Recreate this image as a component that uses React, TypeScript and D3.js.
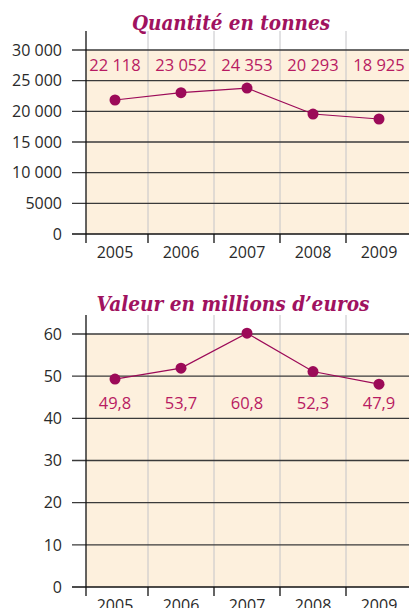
import React from "react";
import * as d3 from "d3";

const years = ["2005", "2006", "2007", "2008", "2009"];
const tonnesLabels = ["22 118", "23 052", "24 353", "20 293", "18 925"];
const tonnesPlotted = [21850, 23040, 23800, 19560, 18750];
const tonnesTicks = [0, 5000, 10000, 15000, 20000, 25000, 30000];
const tonnesTickLabels = ["0", "5000", "10 000", "15 000", "20 000", "25 000", "30 000"];

const euroLabels = ["49,8", "53,7", "60,8", "52,3", "47,9"];
const euroPlotted = [49.3, 51.9, 60.2, 51.1, 48.1];
const euroTicks = [0, 10, 20, 30, 40, 50, 60];
const euroTickLabels = ["0", "10", "20", "30", "40", "50", "60"];

const TITLE_COLOR = "#a0125f";
const POINT_COLOR = "#9c0a58";
const LABEL_COLOR = "#b81a62";
const FILL = "#fdf0dd";
const FONT = "'Open Sans', sans-serif";

type PanelProps = {
  title: string;
  titleX: number;
  titleY: number;
  titleWidth: number;
  axisTop: number;
  yMax: number;
  yRange: [number, number];
  ticks: number[];
  tickLabels: string[];
  plotted: number[];
  labels: string[];
  labelY: number;
  yearY: number;
};

const xScale = d3.scaleBand<string>().domain(years).range([82, 412]).padding(0);
const AXIS_X = 86;
const GRID_LEFT = 72;
const RIGHT = 409;

function Panel(p: PanelProps) {
  const y = d3.scaleLinear().domain([0, p.yMax]).range(p.yRange);
  const line = d3
    .line<number>()
    .x((_, i) => (xScale(years[i]) as number) + xScale.bandwidth() / 2)
    .y((v) => y(v));
  const y0 = y(0);
  const yTop = y(p.yMax);
  return (
    <g>
      <text
        x={p.titleX}
        y={p.titleY}
        textAnchor="middle"
        fill={TITLE_COLOR}
        fontFamily="'DejaVu Serif', serif"
        fontWeight="bold"
        fontStyle="italic"
        fontSize={20}
        textLength={p.titleWidth}
        lengthAdjust="spacingAndGlyphs"
      >
        {p.title}
      </text>
      <rect x={AXIS_X} y={yTop} width={RIGHT - AXIS_X} height={y0 - yTop} fill={FILL} />
      {years.slice(1).map((yr) => (
        <line
          key={"v" + yr}
          x1={xScale(yr) as number}
          x2={xScale(yr) as number}
          y1={p.axisTop}
          y2={y0}
          stroke="#c4c4c8"
          strokeWidth={1}
        />
      ))}
      {p.ticks.map((t, i) => (
        <g key={"t" + t}>
          <line
            x1={GRID_LEFT}
            x2={RIGHT}
            y1={y(t)}
            y2={y(t)}
            stroke={t === 0 ? "#111" : "#3a3a3a"}
            strokeWidth={1.3}
          />
          <text
            x={62}
            y={y(t)}
            dy="0.36em"
            textAnchor="end"
            fontFamily={FONT}
            fontSize={16}
            fill="#2a2a2a"
          >
            {p.tickLabels[i]}
          </text>
        </g>
      ))}
      <line x1={AXIS_X} x2={AXIS_X} y1={p.axisTop} y2={y0 + 9} stroke="#111" strokeWidth={1.3} />
      {years.slice(1).map((yr) => (
        <line
          key={"xt" + yr}
          x1={xScale(yr) as number}
          x2={xScale(yr) as number}
          y1={y0}
          y2={y0 + 9}
          stroke="#111"
          strokeWidth={1.3}
        />
      ))}
      {years.map((yr) => (
        <text
          key={"yl" + yr}
          x={(xScale(yr) as number) + xScale.bandwidth() / 2}
          y={p.yearY}
          textAnchor="middle"
          fontFamily={FONT}
          fontSize={16}
          fill="#2a2a2a"
        >
          {yr}
        </text>
      ))}
      <path d={line(p.plotted) || ""} fill="none" stroke={POINT_COLOR} strokeWidth={1.2} />
      {p.plotted.map((v, i) => (
        <circle
          key={"c" + i}
          cx={(xScale(years[i]) as number) + xScale.bandwidth() / 2}
          cy={y(v)}
          r={5.5}
          fill={POINT_COLOR}
        />
      ))}
      {p.labels.map((l, i) => (
        <text
          key={"l" + i}
          x={(xScale(years[i]) as number) + xScale.bandwidth() / 2}
          y={p.labelY}
          textAnchor="middle"
          fontFamily={FONT}
          fontSize={16.5}
          fill={LABEL_COLOR}
        >
          {l}
        </text>
      ))}
    </g>
  );
}

export default function App() {
  return (
    <svg
      width={409}
      height={608}
      style={{ position: "absolute", left: 0, top: 0, background: "#fff" }}
    >
      <Panel
        title="Quantité en tonnes"
        titleX={231}
        titleY={30}
        titleWidth={198}
        axisTop={31}
        yMax={30000}
        yRange={[234, 50]}
        ticks={tonnesTicks}
        tickLabels={tonnesTickLabels}
        plotted={tonnesPlotted}
        labels={tonnesLabels}
        labelY={71}
        yearY={258}
      />
      <Panel
        title="Valeur en millions d’euros"
        titleX={233}
        titleY={311}
        titleWidth={273}
        axisTop={315}
        yMax={60}
        yRange={[587, 334]}
        ticks={euroTicks}
        tickLabels={euroTickLabels}
        plotted={euroPlotted}
        labels={euroLabels}
        labelY={409}
        yearY={611}
      />
    </svg>
  );
}
